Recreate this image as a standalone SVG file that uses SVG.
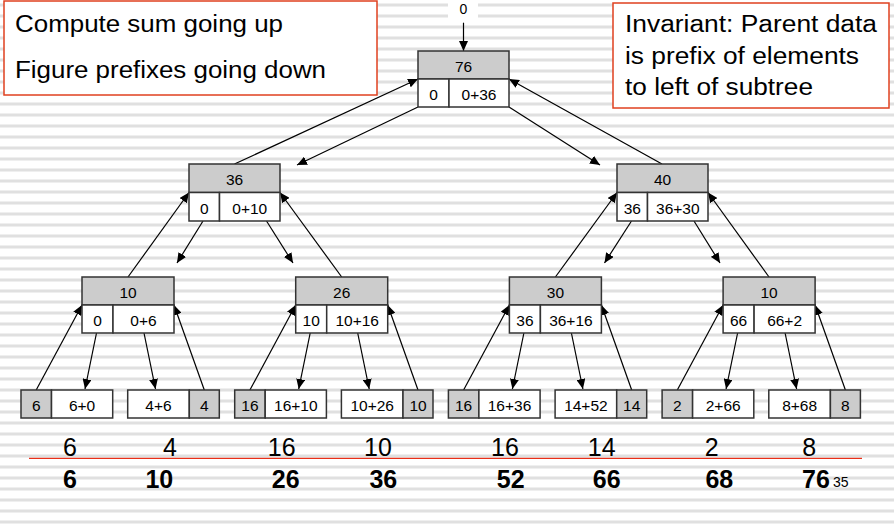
<svg xmlns="http://www.w3.org/2000/svg" width="894" height="525" viewBox="0 0 894 525">
<defs>
<pattern id="stripes" patternUnits="userSpaceOnUse" x="0" y="0" width="894" height="11">
<rect x="0" y="3.5" width="894" height="3" fill="#e0e0e0"/>
</pattern>
<marker id="ah" viewBox="0 0 10 9" refX="10" refY="4.5" markerWidth="10" markerHeight="9" markerUnits="userSpaceOnUse" orient="auto">
<path d="M0,0 L10,4.5 L0,9 z" fill="#000"/>
</marker>
</defs>
<style>
.t{font-family:"Liberation Sans",Arial,sans-serif;font-size:15.5px;fill:#000;text-anchor:middle}
.g{fill:#cccccc;stroke:#333;stroke-width:1.5}
.w{fill:#fff;stroke:#333;stroke-width:1.5}
.box{fill:#fff;stroke:#e0401f;stroke-width:1.5}
.big{font-family:"Liberation Sans",Arial,sans-serif;font-size:23.5px;fill:#000}
.row1{font-family:"Liberation Sans",Arial,sans-serif;font-size:25px;fill:#000;text-anchor:middle}
.row2{font-family:"Liberation Sans",Arial,sans-serif;font-size:25px;font-weight:bold;fill:#000;text-anchor:middle}
.c line{stroke:#000;stroke-width:1.2;marker-end:url(#ah)}
</style>
<rect width="894" height="525" fill="#fff"/>
<rect width="894" height="525" fill="url(#stripes)"/>

<g id="note-left">
<rect class="box" x="4" y="1" width="373" height="94"/>
<text class="big" x="15" y="32" textLength="268" lengthAdjust="spacingAndGlyphs">Compute sum going up</text>
<text class="big" x="15" y="77.5" textLength="311" lengthAdjust="spacingAndGlyphs">Figure prefixes going down</text>
</g>
<g id="note-right">
<rect class="box" x="613" y="3" width="276" height="105"/>
<text class="big" x="625" y="32" textLength="252" lengthAdjust="spacingAndGlyphs">Invariant: Parent data</text>
<text class="big" x="625" y="63.5" textLength="234" lengthAdjust="spacingAndGlyphs">is prefix of elements</text>
<text class="big" x="625" y="95" textLength="188" lengthAdjust="spacingAndGlyphs">to left of subtree</text>
</g>

<g id="input-label">
<rect x="448" y="0" width="30" height="22" fill="#fff"/>
<text class="t" x="463.5" y="14" style="font-size:14px">0</text>
</g>

<g class="c" id="connectors">
<line x1="463.5" y1="22.7" x2="463.5" y2="51"/>
<line x1="234.5" y1="164" x2="418" y2="79"/>
<line x1="418" y1="107" x2="297" y2="165"/>
<line x1="509" y1="107" x2="600" y2="165"/>
<line x1="662" y1="164" x2="509" y2="79"/>
<line x1="128" y1="277" x2="189" y2="192.5"/>
<line x1="203" y1="221" x2="177" y2="263"/>
<line x1="266.5" y1="221" x2="293" y2="263"/>
<line x1="341.7" y1="277" x2="280" y2="192.5"/>
<line x1="555.4" y1="277" x2="617" y2="192.5"/>
<line x1="631.5" y1="221" x2="604.5" y2="263"/>
<line x1="694" y1="221" x2="720" y2="263"/>
<line x1="769" y1="277" x2="708" y2="192.5"/>
<line x1="36.2" y1="390" x2="82" y2="305"/>
<line x1="96.5" y1="333" x2="85" y2="389"/>
<line x1="144" y1="333" x2="155.5" y2="389"/>
<line x1="204.3" y1="390" x2="174" y2="305"/>
<line x1="249.9" y1="390" x2="295.7" y2="305"/>
<line x1="310.2" y1="333" x2="298.7" y2="389"/>
<line x1="357.7" y1="333" x2="369.2" y2="389"/>
<line x1="418" y1="390" x2="387.7" y2="305"/>
<line x1="463.6" y1="390" x2="509.4" y2="305"/>
<line x1="523.9" y1="333" x2="512.4" y2="389"/>
<line x1="571.4" y1="333" x2="582.9" y2="389"/>
<line x1="631.7" y1="390" x2="601.4" y2="305"/>
<line x1="677.3" y1="390" x2="723.1" y2="305"/>
<line x1="737.6" y1="333" x2="726.1" y2="389"/>
<line x1="785.1" y1="333" x2="796.6" y2="389"/>
<line x1="845.4" y1="390" x2="815.1" y2="305"/>
</g>

<g id="root">
<rect class="g" x="418" y="51" width="91" height="28"/>
<rect class="w" x="418" y="79" width="31" height="28"/>
<rect class="w" x="449" y="79" width="60" height="28"/>
<text class="t" x="463.5" y="72">76</text>
<text class="t" x="433.5" y="100">0</text>
<text class="t" x="479" y="100">0+36</text>
</g>

<g id="n36">
<rect class="g" x="189" y="164" width="91" height="28.5"/>
<rect class="w" x="189" y="192.5" width="30.5" height="28.5"/>
<rect class="w" x="219.5" y="192.5" width="60.5" height="28.5"/>
<text class="t" x="234.5" y="185">36</text>
<text class="t" x="204.3" y="213.5">0</text>
<text class="t" x="249.8" y="213.5">0+10</text>
</g>
<g id="n40">
<rect class="g" x="617" y="164" width="91" height="28.5"/>
<rect class="w" x="617" y="192.5" width="30.5" height="28.5"/>
<rect class="w" x="647.5" y="192.5" width="60.5" height="28.5"/>
<text class="t" x="662.5" y="185">40</text>
<text class="t" x="632.3" y="213.5">36</text>
<text class="t" x="677.8" y="213.5">36+30</text>
</g>

<g id="n10a">
<rect class="g" x="82" y="277" width="92" height="28"/>
<rect class="w" x="82" y="305" width="31" height="28"/>
<rect class="w" x="113" y="305" width="61" height="28"/>
<text class="t" x="128" y="298">10</text>
<text class="t" x="97.5" y="326">0</text>
<text class="t" x="143.5" y="326">0+6</text>
</g>
<g id="n26">
<rect class="g" x="295.7" y="277" width="92" height="28"/>
<rect class="w" x="295.7" y="305" width="31" height="28"/>
<rect class="w" x="326.7" y="305" width="61" height="28"/>
<text class="t" x="341.7" y="298">26</text>
<text class="t" x="311.2" y="326">10</text>
<text class="t" x="357.2" y="326">10+16</text>
</g>
<g id="n30">
<rect class="g" x="509.4" y="277" width="92" height="28"/>
<rect class="w" x="509.4" y="305" width="31" height="28"/>
<rect class="w" x="540.4" y="305" width="61" height="28"/>
<text class="t" x="555.4" y="298">30</text>
<text class="t" x="524.9" y="326">36</text>
<text class="t" x="570.9" y="326">36+16</text>
</g>
<g id="n10b">
<rect class="g" x="723.1" y="277" width="92" height="28"/>
<rect class="w" x="723.1" y="305" width="31" height="28"/>
<rect class="w" x="754.1" y="305" width="61" height="28"/>
<text class="t" x="769.1" y="298">10</text>
<text class="t" x="738.6" y="326">66</text>
<text class="t" x="784.6" y="326">66+2</text>
</g>

<g id="leaf1">
<rect class="g" x="21" y="390" width="30.5" height="28"/>
<rect class="w" x="51.5" y="390" width="61.2" height="28"/>
<text class="t" x="36.2" y="411">6</text>
<text class="t" x="82.1" y="411">6+0</text>
</g>
<g id="leaf2">
<rect class="w" x="127.7" y="390" width="61.6" height="28"/>
<rect class="g" x="189.3" y="390" width="30" height="28"/>
<text class="t" x="158.5" y="411">4+6</text>
<text class="t" x="204.3" y="411">4</text>
</g>
<g id="leaf3">
<rect class="g" x="234.7" y="390" width="30.5" height="28"/>
<rect class="w" x="265.2" y="390" width="61.2" height="28"/>
<text class="t" x="249.9" y="411">16</text>
<text class="t" x="295.8" y="411">16+10</text>
</g>
<g id="leaf4">
<rect class="w" x="341.4" y="390" width="61.6" height="28"/>
<rect class="g" x="403" y="390" width="30" height="28"/>
<text class="t" x="372.2" y="411">10+26</text>
<text class="t" x="418" y="411">10</text>
</g>
<g id="leaf5">
<rect class="g" x="448.4" y="390" width="30.5" height="28"/>
<rect class="w" x="478.9" y="390" width="61.2" height="28"/>
<text class="t" x="463.6" y="411">16</text>
<text class="t" x="509.5" y="411">16+36</text>
</g>
<g id="leaf6">
<rect class="w" x="555.1" y="390" width="61.6" height="28"/>
<rect class="g" x="616.7" y="390" width="30" height="28"/>
<text class="t" x="585.9" y="411">14+52</text>
<text class="t" x="631.7" y="411">14</text>
</g>
<g id="leaf7">
<rect class="g" x="662.1" y="390" width="30.5" height="28"/>
<rect class="w" x="692.6" y="390" width="61.2" height="28"/>
<text class="t" x="677.3" y="411">2</text>
<text class="t" x="723.2" y="411">2+66</text>
</g>
<g id="leaf8">
<rect class="w" x="768.8" y="390" width="61.6" height="28"/>
<rect class="g" x="830.4" y="390" width="30" height="28"/>
<text class="t" x="799.6" y="411">8+68</text>
<text class="t" x="845.4" y="411">8</text>
</g>

<g id="sums">
<text class="row1" x="70" y="456">6</text>
<text class="row1" x="170" y="456">4</text>
<text class="row1" x="281.7" y="456">16</text>
<text class="row1" x="378" y="456">10</text>
<text class="row1" x="505" y="456">16</text>
<text class="row1" x="601.7" y="456">14</text>
<text class="row1" x="711.7" y="456">2</text>
<text class="row1" x="809.3" y="456">8</text>
<line x1="29" y1="458.3" x2="862" y2="458.3" stroke="#e8301a" stroke-width="1.2"/>
<text class="row2" x="70" y="488">6</text>
<text class="row2" x="159.3" y="488">10</text>
<text class="row2" x="285.7" y="488">26</text>
<text class="row2" x="383.3" y="488">36</text>
<text class="row2" x="510.7" y="488">52</text>
<text class="row2" x="606.7" y="488">66</text>
<text class="row2" x="719.3" y="488">68</text>
<text class="row2" x="816" y="488">76</text>
<text x="833" y="487" style="font-family:'Liberation Sans',Arial,sans-serif;font-size:14px;fill:#000">35</text>
</g>
</svg>
